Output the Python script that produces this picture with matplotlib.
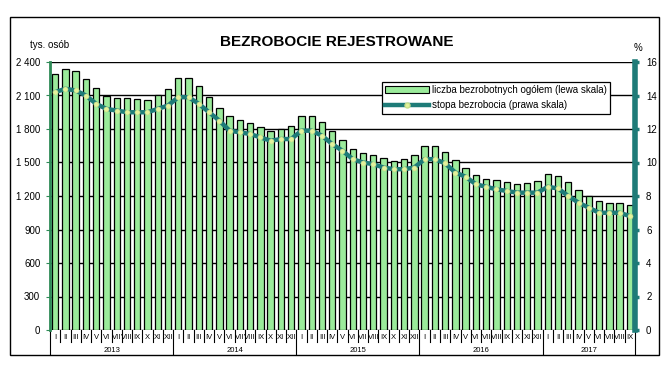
import matplotlib
matplotlib.use("Agg")
import matplotlib.pyplot as plt
from matplotlib.patches import Rectangle, Patch
from matplotlib.lines import Line2D
import matplotlib.transforms as mtransforms
from matplotlib.ticker import FuncFormatter

plt.rcParams['font.family'] = ['Liberation Sans', 'DejaVu Sans']

months = ['I', 'II', 'III', 'IV', 'V', 'VI', 'VII', 'VIII', 'IX', 'X', 'XI', 'XII']
years = ['2013', '2014', '2015', '2016', '2017']

# liczba bezrobotnych, tys. osob
bezrobotni = [2296, 2337, 2315, 2250, 2168, 2098, 2080, 2074, 2072, 2064, 2108, 2158,
              2261, 2259, 2182, 2083, 1990, 1912, 1879, 1853, 1817, 1780, 1797, 1825,
              1914, 1914, 1860, 1778, 1701, 1617, 1583, 1563, 1538, 1509, 1530, 1563,
              1648, 1652, 1598, 1520, 1452, 1392, 1356, 1342, 1324, 1304, 1312, 1335,
              1398, 1382, 1324, 1251, 1200, 1155, 1137, 1137, 1119]
# stopa bezrobocia, %
stopa = [14.2, 14.4, 14.3, 14.0, 13.5, 13.2, 13.1, 13.0, 13.0, 13.0, 13.2, 13.4,
         13.9, 13.9, 13.5, 13.0, 12.5, 11.9, 11.8, 11.7, 11.5, 11.3, 11.4, 11.4,
         11.9, 11.9, 11.6, 11.1, 10.7, 10.2, 10.0, 9.9, 9.7, 9.6, 9.6, 9.7,
         10.2, 10.2, 9.95, 9.4, 9.15, 8.7, 8.55, 8.4, 8.3, 8.2, 8.2, 8.2,
         8.55, 8.45, 8.0, 7.6, 7.3, 7.0, 7.0, 7.0, 6.8]

n = len(bezrobotni)
x = list(range(n))
labels = [months[i % 12] for i in x]

fig = plt.figure(figsize=(6.72, 3.70), dpi=100)
ax = fig.add_axes([50/672, 1-330/370, 585/672, 268/370])
ax2 = ax.twinx()

# siatka pod slupkami
ax.set_axisbelow(True)
ax.yaxis.grid(True, color='black', linewidth=1.0)
ax.bar(x, bezrobotni, width=0.62, color='#9BEB9B', edgecolor='black', linewidth=0.9, zorder=2)

ax.set_xlim(-0.5, n - 0.5)
ax.set_ylim(0, 2400)
ax.set_yticks(range(0, 2401, 300))
ax.yaxis.set_major_formatter(FuncFormatter(lambda v, p: '{:,}'.format(int(v)).replace(',', ' ')))
ax.tick_params(axis='y', labelsize=7, length=3, color='#2e8b57', pad=4)
ax.set_xticks([])

ax2.plot(x, stopa, color='#1e7b78', linewidth=3.2, marker='o', markersize=3.6,
         markerfacecolor='#e3f29b', markeredgecolor='#c9e08a', markeredgewidth=0.4, zorder=3)
ax2.set_ylim(0, 16)
ax2.set_yticks(range(0, 17, 2))
ax2.tick_params(axis='y', labelsize=7, length=3, width=2.5, color='#1e7b78', pad=5)

for a in (ax, ax2):
    a.spines['top'].set_visible(False)
    a.spines['bottom'].set_visible(False)
ax.spines['right'].set_visible(False)
ax2.spines['left'].set_color('#2e8b57')
ax2.spines['left'].set_linewidth(2)
ax2.spines['right'].set_color('#1e7b78')
ax2.spines['right'].set_linewidth(4)

# os x: miesiace i lata
tr = mtransforms.blended_transform_factory(ax.transData, ax.transAxes)
for i in x:
    ax.text(i, -0.028, labels[i], transform=tr, ha='center', va='center', fontsize=5.5)
for i in range(n + 1):
    bottom = -0.09 if (i % 12 == 0 or i == n) else -0.045
    ax.plot([i - 0.5, i - 0.5], [0, bottom], transform=tr, color='black',
            linewidth=0.8, clip_on=False)
for k, yr in enumerate(years):
    start = k * 12
    end = min(start + 12, n)
    ax.text((start + end - 1) / 2, -0.075, yr, transform=tr, ha='center', va='center',
            fontsize=5.5)

# legenda
handles = [Patch(facecolor='#9BEB9B', edgecolor='black', linewidth=0.8),
           Line2D([0], [0], color='#1e7b78', linewidth=3.2, marker='o', markersize=3.6,
                  markerfacecolor='#e3f29b', markeredgecolor='#c9e08a')]
leg = ax2.legend(handles, ['liczba bezrobotnych ogółem (lewa skala)', 'stopa bezrobocia (prawa skala)'],
                 loc='upper left', bbox_to_anchor=(327/585, 1-15/268), fontsize=7,
                 frameon=True, fancybox=False, framealpha=1, edgecolor='black',
                 handlelength=4.5, handletextpad=0.3, borderpad=0.35, labelspacing=0.5)
leg.get_frame().set_linewidth(0.9)

fig.text(337/672, 1-42/370, 'BEZROBOCIE REJESTROWANE', ha='center', va='center',
         fontsize=11, fontweight='bold')
fig.text(30/672, 1-45/370, 'tys. osób', ha='left', va='center', fontsize=7)
fig.text(638/672, 1-48/370, '%', ha='center', va='center', fontsize=7)

fig.patches.append(Rectangle((10/672, 1-355/370), 649/672, 338/370, transform=fig.transFigure,
                             fill=False, edgecolor='black', linewidth=1.0))

fig.savefig('out.png', dpi=100)
